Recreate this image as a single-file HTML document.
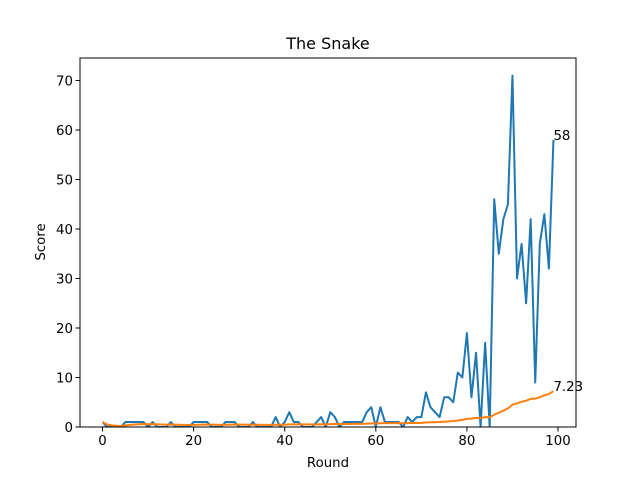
<!DOCTYPE html>
<html><head><meta charset="utf-8"><style>
body{margin:0;background:#fff}
svg text{font-family:"DejaVu Sans","Liberation Sans",sans-serif;fill:#000}
</style></head><body>
<svg id="chart" width="640" height="480" xmlns="http://www.w3.org/2000/svg">
<rect width="640" height="480" fill="#fff"/>
<text x="328" y="49" font-size="16" text-anchor="middle">The Snake</text>
<text x="328" y="467" font-size="13.33" text-anchor="middle">Round</text>
<text transform="translate(45,242) rotate(-90)" font-size="13.33" text-anchor="middle">Score</text>
<g id="plot"></g>
</svg>
<script>
const scores=[1,0,0,0,0,1,1,1,1,1,0,1,0,0,0,1,0,0,0,0,1,1,1,1,0,0,0,1,1,1,0,0,0,1,0,0,0,0,2,0,1,3,1,1,0,0,0,1,2,0,3,2,0,1,1,1,1,1,3,4,0,4,1,1,1,1,0,2,1,2,2,7,4,3,2,6,6,5,11,10,19,6,15,0,17,0,46,35,42,45,71,30,37,25,42,9,37,43,32,58];
const means=[1,0.5,0.33,0.25,0.2,0.33,0.43,0.5,0.56,0.6,0.55,0.58,0.54,0.5,0.47,0.5,0.47,0.44,0.42,0.4,0.43,0.45,0.48,0.5,0.48,0.46,0.44,0.46,0.48,0.5,0.48,0.47,0.45,0.47,0.46,0.44,0.43,0.42,0.46,0.45,0.46,0.52,0.53,0.55,0.53,0.52,0.51,0.52,0.55,0.54,0.59,0.62,0.6,0.61,0.61,0.62,0.63,0.64,0.68,0.73,0.72,0.77,0.78,0.78,0.78,0.79,0.77,0.79,0.8,0.81,0.83,0.92,0.96,0.99,1.0,1.07,1.14,1.19,1.32,1.43,1.64,1.69,1.85,1.83,2.0,1.98,2.5,2.88,3.3,3.76,4.5,4.78,5.1,5.3,5.7,5.73,6.03,6.4,6.65,7.23];
const xTicks=[0,20,40,60,80,100];
const yTicks=[0,10,20,30,40,50,60,70];
const L=80,R=576,T=58,B=427;
const xMin=-4.95,xMax=103.95,yMin=0,yMax=74.55;
const X=v=>L+(v-xMin)/(xMax-xMin)*(R-L);
const Y=v=>B-(v-yMin)/(yMax-yMin)*(B-T);
const NS="http://www.w3.org/2000/svg";
const g=document.getElementById('plot');
function mk(t,a){const e=document.createElementNS(NS,t);for(const k in a)e.setAttribute(k,a[k]);g.appendChild(e);return e;}
function pts(arr){return arr.map((v,i)=>X(i).toFixed(2)+','+Y(v).toFixed(2)).join(' ');}
const clip=document.createElementNS(NS,'clipPath');clip.setAttribute('id','cp');
const cr=document.createElementNS(NS,'rect');cr.setAttribute('x',L);cr.setAttribute('y',T);cr.setAttribute('width',R-L);cr.setAttribute('height',B-T);clip.appendChild(cr);g.appendChild(clip);
const s1=mk('polyline',{points:pts(scores),fill:'none',stroke:'#1f77b4','stroke-width':2,'stroke-linejoin':'round','clip-path':'url(#cp)'});


const s2=mk('polyline',{points:pts(means),fill:'none',stroke:'#ff7f0e','stroke-width':2,'stroke-linejoin':'round','clip-path':'url(#cp)'});


const fr=mk('rect',{x:L,y:T,width:R-L,height:B-T,fill:'none',stroke:'#000','stroke-width':1});


xTicks.forEach(v=>{
  const l=mk('line',{x1:X(v),x2:X(v),y1:B,y2:B+4.5,stroke:'#000'});
  
  
  const t=mk('text',{x:X(v),y:B+18,'font-size':13.33,'text-anchor':'middle'});t.textContent=v;
  
  
});
yTicks.forEach(v=>{
  const l=mk('line',{x1:L-4.5,x2:L,y1:Y(v),y2:Y(v),stroke:'#000'});
  
  
  const t=mk('text',{x:L-7,y:Y(v)+5,'font-size':13.33,'text-anchor':'end'});t.textContent=v;
  
  
});
const n=scores.length-1;
const a1=mk('text',{x:X(n),y:Y(scores[n]),'font-size':13.33});a1.textContent=String(scores[n]);


const a2=mk('text',{x:X(n),y:Y(means[n]),'font-size':13.33});a2.textContent=String(means[n]);


</script>
</body></html>
